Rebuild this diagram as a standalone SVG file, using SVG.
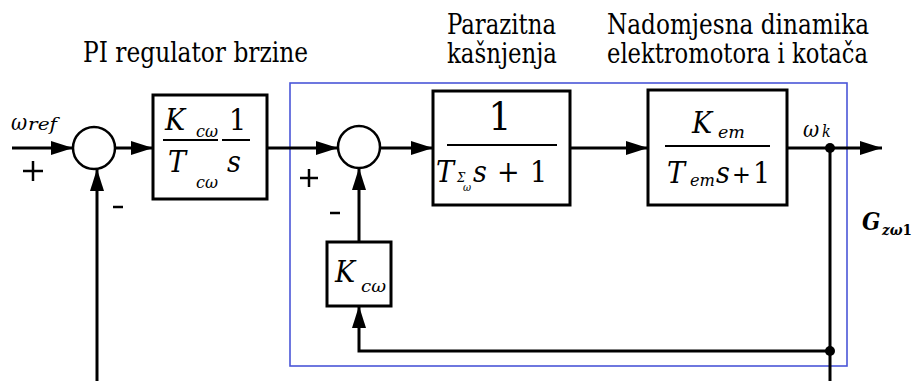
<svg xmlns="http://www.w3.org/2000/svg" width="914" height="381" viewBox="0 0 914 381">
<defs>
<style>
.ln{stroke:#000;stroke-width:3;fill:none}
.blk{stroke:#000;stroke-width:3;fill:#fff}
.sum{stroke:#000;stroke-width:2.5;fill:#fff}
.bar{stroke:#000;stroke-width:2}
.t{font-family:'DejaVu Serif Condensed','DejaVu Serif','Liberation Serif',serif;fill:#000}
.i{font-style:italic}
.title{font-size:27px}
.m{font-size:30px}
.sb{font-size:17px;font-style:italic}
.sign{stroke:#000;stroke-width:2.5}
</style>
<marker id="ah" markerWidth="22" markerHeight="14" refX="22" refY="7" orient="auto" markerUnits="userSpaceOnUse">
<path d="M0,0 L22,7 L0,14 Z" fill="#000"/>
</marker>
</defs>
<rect width="914" height="381" fill="#fff"/>

<g id="titles">
<text class="t title" x="83" y="62" textLength="225" lengthAdjust="spacingAndGlyphs">PI regulator brzine</text>
<text class="t title" x="447" y="34" textLength="109" lengthAdjust="spacingAndGlyphs">Parazitna</text>
<text class="t title" x="447" y="63" textLength="110" lengthAdjust="spacingAndGlyphs">kašnjenja</text>
<text class="t title" x="607" y="34" textLength="262" lengthAdjust="spacingAndGlyphs">Nadomjesna dinamika</text>
<text class="t title" x="607" y="63" textLength="261" lengthAdjust="spacingAndGlyphs">elektromotora i kotača</text>
</g>

<g id="subsystem">
<rect x="290" y="83" width="557" height="283" fill="none" stroke="#4a56d8" stroke-width="1.6"/>
<text class="t" x="862" y="230" font-size="24" font-weight="bold" font-style="italic" fill="#3b4cc8">G</text>
<text class="t" x="882" y="235" font-size="15" font-weight="bold" font-style="italic" fill="#3b4cc8" textLength="30" lengthAdjust="spacingAndGlyphs">zω<tspan font-style="normal">1</tspan></text>
</g>

<g id="connectors">
<line class="ln" x1="12" y1="148" x2="73" y2="148" marker-end="url(#ah)"/>
<line class="ln" x1="115" y1="148" x2="153" y2="148" marker-end="url(#ah)"/>
<line class="ln" x1="267" y1="148" x2="338" y2="148" marker-end="url(#ah)"/>
<line class="ln" x1="380" y1="148" x2="433" y2="148" marker-end="url(#ah)"/>
<line class="ln" x1="570" y1="148" x2="648" y2="148" marker-end="url(#ah)"/>
<line class="ln" x1="787" y1="148" x2="882" y2="148" marker-end="url(#ah)"/>
<line class="ln" x1="97" y1="381" x2="97" y2="169" marker-end="url(#ah)"/>
<line class="ln" x1="830" y1="148" x2="830" y2="381"/>
<polyline class="ln" points="830,351 359,351 359,306" marker-end="url(#ah)"/>
<line class="ln" x1="359" y1="242" x2="359" y2="168" marker-end="url(#ah)"/>
<circle cx="830" cy="148" r="5" fill="#000"/>
<circle cx="830" cy="351" r="5" fill="#000"/>
</g>

<g id="input-label">
<text class="t i" x="11" y="130" font-size="22">ω</text>
<text class="t i" x="28" y="130" font-size="17" textLength="29" lengthAdjust="spacingAndGlyphs">ref</text>
<line class="sign" x1="23" y1="171" x2="43" y2="171"/>
<line class="sign" x1="33" y1="161" x2="33" y2="181"/>
</g>

<g id="sum1">
<circle class="sum" cx="94" cy="148" r="21"/>
<line class="sign" x1="113" y1="207" x2="123" y2="207"/>
</g>

<g id="pi-regulator">
<rect class="blk" x="153" y="95" width="114" height="104"/>
<text class="t i m" x="165" y="130">K</text>
<text class="t sb" x="196" y="137" textLength="22" lengthAdjust="spacingAndGlyphs">cω</text>
<line class="bar" x1="163" y1="140" x2="218" y2="140"/>
<text class="t i m" x="168" y="172">T</text>
<text class="t sb" x="196" y="188" textLength="22" lengthAdjust="spacingAndGlyphs">cω</text>
<text class="t m" x="229" y="130">1</text>
<line class="bar" x1="222" y1="140" x2="250" y2="140"/>
<text class="t i m" x="227" y="172">s</text>
</g>

<g id="sum2">
<circle class="sum" cx="359" cy="147" r="21"/>
<line class="sign" x1="300" y1="178" x2="318" y2="178"/>
<line class="sign" x1="309" y1="169" x2="309" y2="187"/>
<line class="sign" x1="330" y1="213" x2="340" y2="213"/>
</g>

<g id="parasitic">
<rect class="blk" x="433" y="91" width="137" height="114"/>
<text class="t" x="500" y="130" font-size="40" text-anchor="middle">1</text>
<line class="bar" x1="447" y1="145" x2="557" y2="145"/>
<text class="t i m" x="436" y="182">T</text>
<text class="t i" x="457" y="182" font-size="13">Σ</text>
<text class="t i" x="463" y="191" font-size="11">ω</text>
<text class="t i m" x="473" y="182">s</text>
<text class="t m" x="497" y="182">+</text>
<text class="t m" x="530" y="182">1</text>
</g>

<g id="motor">
<rect class="blk" x="648" y="90" width="139" height="115"/>
<text class="t i m" x="692" y="133">K</text>
<text class="t sb" x="718" y="138" textLength="27" lengthAdjust="spacingAndGlyphs">em</text>
<line class="bar" x1="665" y1="146" x2="770" y2="146"/>
<text class="t i m" x="667" y="183">T</text>
<text class="t sb" x="690" y="186" textLength="25" lengthAdjust="spacingAndGlyphs">em</text>
<text class="t i m" x="716" y="183">s</text>
<text class="t" x="732" y="183" font-size="25">+</text>
<text class="t m" x="753" y="183">1</text>
<text class="t i" x="803" y="137" font-size="22">ω</text>
<text class="t i" x="822" y="137" font-size="16">k</text>
</g>

<g id="k-feedback">
<rect class="blk" x="327" y="242" width="64" height="64"/>
<text class="t i m" x="335" y="282">K</text>
<text class="t sb" x="361" y="292" textLength="25" lengthAdjust="spacingAndGlyphs">cω</text>
</g>
</svg>
